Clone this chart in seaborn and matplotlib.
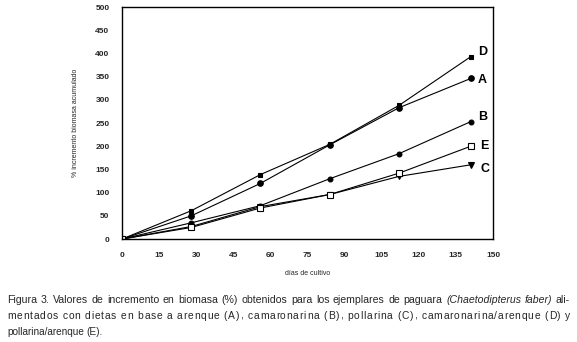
import matplotlib
matplotlib.use("Agg")
import matplotlib.pyplot as plt
import seaborn as sns
import pandas as pd

dias = [0, 28, 56, 84, 112, 141]
serie_A = [0, 50, 120, 203, 283, 346]
serie_B = [0, 35, 72, 130, 184, 253]
serie_C = [0, 27, 70, 96, 135, 160]
serie_D = [0, 61, 139, 204, 288, 393]
serie_E = [0, 25, 67, 96, 142, 200]
x_ticks = [0, 15, 30, 45, 60, 75, 90, 105, 120, 135, 150]
y_ticks = [0, 50, 100, 150, 200, 250, 300, 350, 400, 450, 500]

sns.set_style("white")
plt.rcParams['font.family'] = ['Liberation Sans', 'DejaVu Sans']

fig = plt.figure(figsize=(5.77, 3.42), dpi=100)
ax = fig.add_axes([0.2114, 0.301, 0.6430, 0.6785])

series = {"A": serie_A, "B": serie_B, "C": serie_C, "D": serie_D, "E": serie_E}
markers = {"A": "o", "B": "o", "C": "v", "D": "s", "E": "s"}
msize = {"A": 4, "B": 3.5, "C": 5, "D": 3.5, "E": 5}
face = {"A": "black", "B": "black", "C": "black", "D": "black", "E": "white"}
offsets = {"A": (5, -1), "B": (5, 3.5), "C": (7, -3), "D": (5, 3.5), "E": (7, 0)}

for k, vals in series.items():
    df = pd.DataFrame({"dias": dias, "inc": vals})
    sns.lineplot(data=df, x="dias", y="inc", ax=ax, color="black", lw=0.8,
                 marker=markers[k], markersize=msize[k], markerfacecolor=face[k],
                 markeredgecolor="black", markeredgewidth=0.8)
    ax.annotate(k, (dias[-1], vals[-1]), xytext=offsets[k], textcoords="offset points",
                fontsize=9, fontweight="bold", ha="left", va="center", color="black")

ax.set_xlim(0, 150)
ax.set_ylim(0, 500)
ax.set_xticks(x_ticks)
ax.set_yticks(y_ticks)
ax.set_xticklabels([str(t) for t in x_ticks], fontsize=6, fontweight="bold")
ax.set_yticklabels([str(t) for t in y_ticks], fontsize=6, fontweight="bold")
ax.tick_params(axis="both", direction="out", length=3, width=0.8, color="black", pad=6)
for s in ax.spines.values():
    s.set_color("black")
    s.set_linewidth(1.0)
ax.set_xlabel("días de cultivo", fontsize=5, labelpad=8)
ax.set_ylabel("% incremento biomasa acumulado", fontsize=5, labelpad=12)

cap_fs = 7.6
left_px = 7
right_px = 570
W = fig.bbox.width
fig.canvas.draw()
r = fig.canvas.get_renderer()


def text_width(s, st="normal", fs=cap_fs):
    t = fig.text(0, 0, s, fontsize=fs, style=st)
    w = t.get_window_extent(r).width
    t.remove()
    return w


def word_justified(words, ypx, justify=True, fs=cap_fs):
    objs, widths = [], []
    for w, st in words:
        t = fig.text(0, 0, w, fontsize=fs, style=st, va="center", ha="left")
        widths.append(t.get_window_extent(r).width)
        objs.append(t)
    n = len(words)
    sp = text_width("a a", fs=fs) - text_width("aa", fs=fs)
    gap = (right_px - left_px - sum(widths)) / (n - 1) if (justify and n > 1) else sp
    x = left_px
    for t, wd in zip(objs, widths):
        t.set_position((x / W, 1 - ypx / 342))
        x += wd + gap


def char_justified(line, ypx, fs):
    sp = text_width("a a", fs=fs) - text_width("aa", fs=fs)
    widths = [sp if c == " " else text_width(c, fs=fs) for c in line]
    extra = (right_px - left_px - sum(widths)) / (len(line) - 1)
    x = left_px
    for c, wd in zip(line, widths):
        if c != " ":
            fig.text(x / W, 1 - ypx / 342, c, fontsize=fs, va="center", ha="left")
        x += wd + extra


line1 = "Figura 3. Valores de incremento en biomasa (%) obtenidos para los ejemplares de paguara".split()
words1 = [(w, "normal") for w in line1] + [("(Chaetodipterus", "italic"), ("faber)", "italic"), ("ali-", "normal")]
word_justified(words1, 300)
char_justified("mentados con dietas en base a arenque (A), camaronarina (B), pollarina (C), camaronarina/arenque (D) y", 316, 7.4)
word_justified([(w, "normal") for w in "pollarina/arenque (E).".split()], 332, justify=False, fs=7.2)

fig.savefig("out.png", dpi=100)
